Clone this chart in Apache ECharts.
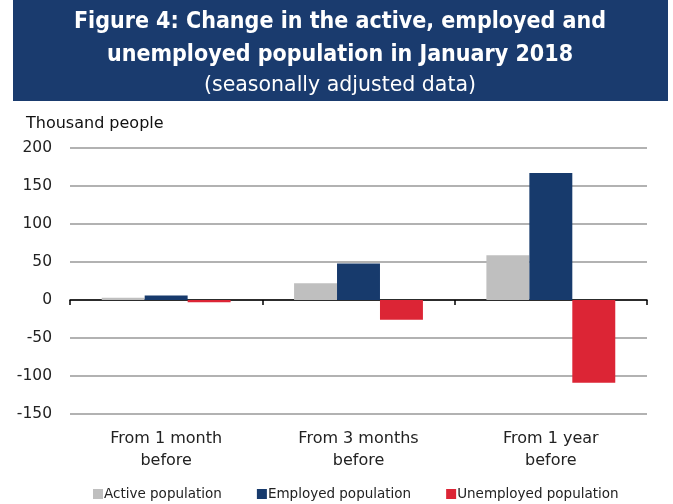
<!DOCTYPE html>
<html>
<head>
<meta charset="utf-8">
<script src="https://cdn.jsdelivr.net/npm/echarts@6/dist/echarts.min.js"></script>
<style>html,body{margin:0;padding:0;background:#fff;}#c{width:673px;height:504px;}</style>
</head>
<body>
<div id="c"></div>
<script>
const categories = ['From 1 month\nbefore', 'From 3 months\nbefore', 'From 1 year\nbefore'];
const activePopulation = [3, 22, 59];
const employedPopulation = [6, 48, 167];
const unemployedPopulation = [-3, -26, -109];
const seriesNames = ['Active population', 'Employed population', 'Unemployed population'];
const titleLines = ['Figure 4: Change in the active, employed and', 'unemployed population in January 2018', '(seasonally adjusted data)'];
const unitLabel = 'Thousand people';

const FONT = 'DejaVu Sans';
const FONT_C = 'DejaVu Sans Condensed';
const chart = echarts.init(document.getElementById('c'), null, {renderer: 'canvas'});
chart.setOption({
  animation: false,
  textStyle: {fontFamily: FONT},
  graphic: [
    {type: 'rect', shape: {x: 13, y: 0, width: 655, height: 101}, style: {fill: '#1a3b6e'}},
    {type: 'text', x: 340, y: 22, style: {text: titleLines[0], fill: '#fff', font: 'bold 23px "' + FONT_C + '"', textAlign: 'center', textVerticalAlign: 'middle'}},
    {type: 'text', x: 340, y: 55, style: {text: titleLines[1], fill: '#fff', font: 'bold 23px "' + FONT_C + '"', textAlign: 'center', textVerticalAlign: 'middle'}},
    {type: 'text', x: 340, y: 86, style: {text: titleLines[2], fill: '#fff', font: '20.5px ' + FONT, textAlign: 'center', textVerticalAlign: 'middle'}},
    {type: 'text', x: 26, y: 124, style: {text: unitLabel, fill: '#111', font: '16px ' + FONT, textVerticalAlign: 'middle'}}
  ],
  legend: {
    top: 482, left: 88, itemWidth: 10, itemHeight: 10, itemGap: 35, icon: 'rect',
    textStyle: {fontSize: 13.5, color: '#222', fontFamily: FONT, padding: [0, 0, 0, -4]},
    data: seriesNames
  },
  grid: {left: 70, right: 26, top: 148, bottom: 90, outerBoundsMode: 'none', containLabel: false},
  xAxis: [
    {
      type: 'category', data: categories, position: 'bottom',
      axisLine: {show: false, onZero: false}, axisTick: {show: false},
      axisLabel: {fontSize: 16, color: '#222', lineHeight: 22, margin: 14, fontFamily: FONT}
    },
    {
      type: 'category', data: categories, position: 'bottom',
      axisLine: {onZero: true, lineStyle: {color: '#000', width: 1.5}},
      axisTick: {show: true, length: 5, lineStyle: {color: '#000', width: 1.5}},
      axisLabel: {show: false}
    }
  ],
  yAxis: {
    type: 'value', min: -150, max: 200, interval: 50,
    axisLine: {show: false}, axisTick: {show: false},
    axisLabel: {fontSize: 15.5, color: '#222', margin: 18, fontFamily: FONT},
    splitLine: {lineStyle: {color: '#999', width: 1.5}}
  },
  series: [
    {name: seriesNames[0], type: 'bar', data: activePopulation, itemStyle: {color: '#bfbfbf'}, barGap: '0%', barCategoryGap: '33%'},
    {name: seriesNames[1], type: 'bar', data: employedPopulation, itemStyle: {color: '#173a6c'}},
    {name: seriesNames[2], type: 'bar', data: unemployedPopulation, itemStyle: {color: '#dc2535'}}
  ]
});
</script>
</body>
</html>
